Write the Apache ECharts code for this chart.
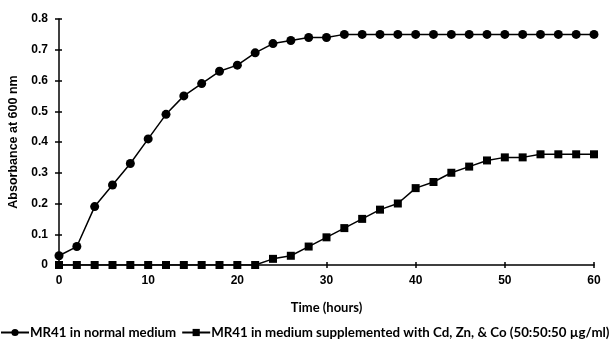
<!DOCTYPE html>
<html><head><meta charset="utf-8">
<script src="https://cdn.jsdelivr.net/npm/echarts@6/dist/echarts.min.js"></script>
<style>html,body{margin:0;padding:0;background:#fff}#c{width:612px;height:344px}</style>
</head><body><div id="c"></div>
<script>
const hours = [0,2,4,6,8,10,12,14,16,18,20,22,24,26,28,30,32,34,36,38,40,42,44,46,48,50,52,54,56,58,60];
const normalMedium = [0.03,0.06,0.19,0.26,0.33,0.41,0.49,0.55,0.59,0.63,0.65,0.69,0.72,0.73,0.74,0.74,0.75,0.75,0.75,0.75,0.75,0.75,0.75,0.75,0.75,0.75,0.75,0.75,0.75,0.75,0.75];
const supplemented = [0,0,0,0,0,0,0,0,0,0,0,0,0.02,0.03,0.06,0.09,0.12,0.15,0.18,0.20,0.25,0.27,0.30,0.32,0.34,0.35,0.35,0.36,0.36,0.36,0.36];
const seriesNames = ['MR41 in normal medium','MR41 in medium supplemented with Cd, Zn, & Co (50:50:50 µg/ml)'];

const chart = echarts.init(document.getElementById('c'), null, {renderer:'canvas'});
const axisFont = {fontFamily:'Liberation Sans, Arial, sans-serif', fontWeight:'bold', fontSize:12, color:'#000'};
const pair = (xs, ys) => xs.map((x,i)=>[x, ys[i]]);
chart.setOption({
  animation:false,
  backgroundColor:'#fff',
  grid:{left:59, right:18, top:19, bottom:79, containLabel:false, outerBoundsMode:'none'},
  legend:{
    bottom:5, left:0, width:640, padding:0, itemWidth:28, itemHeight:9, itemGap:5,
    textStyle:{fontFamily:'Lato, Open Sans, sans-serif', fontWeight:'bold', fontSize:13.3, color:'#000', padding:[0,0,0,-4]},
    data:[seriesNames[0], seriesNames[1]]
  },
  xAxis:[{
    type:'value', min:0, max:60, interval:10,
    name:'Time (hours)', nameLocation:'middle', nameGap:36,
    nameTextStyle:{fontFamily:'Lato, Open Sans, sans-serif', fontWeight:'bold', fontSize:13, color:'#000'},
    axisLine:{show:true, onZero:false, lineStyle:{color:'#000', width:1.5}},
    axisTick:{show:true, inside:false, length:3, lineStyle:{color:'#000', width:1.5}},
    axisLabel:{...axisFont, margin:10},
    splitLine:{show:false}
  },{
    type:'value', min:0, max:60, interval:10, position:'bottom',
    axisLine:{show:false}, axisLabel:{show:false}, splitLine:{show:false},
    axisTick:{show:true, inside:true, length:3, lineStyle:{color:'#000', width:1.5}}
  }],
  yAxis:[{
    type:'value', min:0, max:0.8, interval:0.1,
    name:'Absorbance at 600 nm', nameLocation:'middle', nameGap:37,
    nameTextStyle:{fontFamily:'Liberation Sans, Arial, sans-serif', fontWeight:'bold', fontSize:12.5, color:'#000'},
    axisLine:{show:true, onZero:false, lineStyle:{color:'#000', width:1.5}},
    axisTick:{show:true, inside:false, length:4, lineStyle:{color:'#000', width:1.5}},
    axisLabel:{...axisFont, margin:11, formatter:v=>String(+v.toFixed(1))},
    splitLine:{show:false}
  },{
    type:'value', min:0, max:0.8, interval:0.1, position:'left',
    axisLine:{show:false}, axisLabel:{show:false}, splitLine:{show:false},
    axisTick:{show:true, inside:true, length:3, lineStyle:{color:'#000', width:1.5}}
  }],
  series:[{
    name:seriesNames[0], type:'line', xAxisIndex:0, yAxisIndex:0,
    data:pair(hours, normalMedium), symbol:'circle', symbolSize:9,
    lineStyle:{color:'#000', width:1.5}, itemStyle:{color:'#000'}
  },{
    name:seriesNames[1], type:'line', xAxisIndex:0, yAxisIndex:0,
    data:pair(hours, supplemented), symbol:'rect', symbolSize:8,
    lineStyle:{color:'#000', width:1.5}, itemStyle:{color:'#000'}
  }]
});
</script></body></html>
